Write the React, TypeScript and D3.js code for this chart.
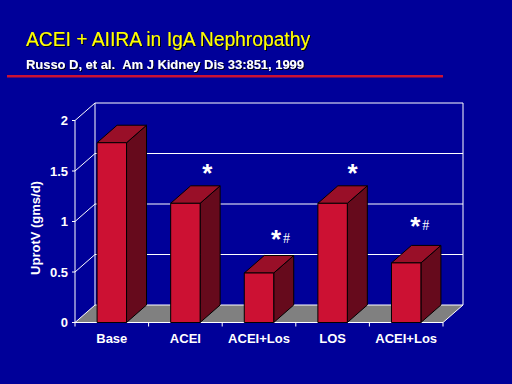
import React from "react";
import * as d3 from "d3";

const categories = ["Base", "ACEI", "ACEI+Los", "LOS", "ACEI+Los "];
const categoryLabels = ["Base", "ACEI", "ACEI+Los", "LOS", "ACEI+Los"];
const values = [1.78, 1.18, 0.49, 1.18, 0.59];
const starMarks = ["", "*", "*", "*", "*"];
const hashMarks = ["", "", "#", "", "#"];
const markLevels = [0, 1.51, 0.86, 1.51, 0.99];
const markOffsets = [0, 22, 17, 20, 9];
const yTicks = [0, 0.5, 1, 1.5, 2];
const yTickLabels = ["0", "0.5", "1", "1.5", "2"];

const W = 512;
const H = 384;
const DX = 20;
const DY = -17.5;

export default function App() {
  const x = d3.scaleBand<string>().domain(categories).range([75, 443]).paddingInner(0).paddingOuter(0);
  const y = d3.scaleLinear().domain([0, 2]).range([322.5, 120.5]);
  const bw = x.bandwidth() * 0.4;
  const x0 = 75, x1 = 443, y0 = y(0), yTop = y(2);
  const font = "'Liberation Sans', Arial, sans-serif";

  const floor = d3.line()([
    [x0, y0], [x1, y0], [x1 + DX, y0 + DY], [x0 + DX, y0 + DY],
  ]) + "Z";

  return (
    <svg width={W} height={H} style={{ position: "absolute", left: 0, top: 0, display: "block" }}>
      <defs>
        <filter id="sh" x="-5%" y="-20%" width="110%" height="150%">
          <feDropShadow dx="1" dy="1" stdDeviation="0" floodColor="#000000" floodOpacity="0.9" />
        </filter>
      </defs>
      <rect x={0} y={0} width={W} height={H} fill="#000099" />
      <text x={26} y={46} fill="#FFFF00" fontFamily={font} fontSize={19.5} textLength={284} lengthAdjust="spacingAndGlyphs" filter="url(#sh)">
        ACEI + AIIRA in IgA Nephropathy
      </text>
      <text x={26} y={69} fill="#FFFFFF" fontFamily={font} fontSize={13.5} fontWeight="bold" textLength={278} lengthAdjust="spacingAndGlyphs" filter="url(#sh)">
        Russo D, et al.{"\u00A0\u00A0"}Am J Kidney Dis 33:851, 1999
      </text>
      <rect x={7} y={75} width={436} height={2.5} fill="#CC1133" />

      {/* floor */}
      <path d={floor} fill="#808080" stroke="none" />
      {/* back wall lines */}
      {yTicks.map((t) => (
        <line key={"g" + t} x1={x0 + DX} x2={x1 + DX} y1={y(t) + DY} y2={y(t) + DY} stroke="#FFFFFF" strokeWidth={1} />
      ))}
      <line x1={x0 + DX} x2={x0 + DX} y1={yTop + DY} y2={y0 + DY} stroke="#FFFFFF" strokeWidth={1} />
      <line x1={x1 + DX} x2={x1 + DX} y1={yTop + DY} y2={y0 + DY} stroke="#FFFFFF" strokeWidth={1} />
      {/* side wall diagonals */}
      {yTicks.map((t) => (
        <line key={"d" + t} x1={x0} x2={x0 + DX} y1={y(t)} y2={y(t) + DY} stroke="#FFFFFF" strokeWidth={1} />
      ))}
      <line x1={x1} x2={x1 + DX} y1={y0} y2={y0 + DY} stroke="#FFFFFF" strokeWidth={1} />
      {/* front axes */}
      <line x1={x0} x2={x0} y1={yTop} y2={y0} stroke="#FFFFFF" strokeWidth={1} />
      <line x1={x0} x2={x1} y1={y0} y2={y0} stroke="#FFFFFF" strokeWidth={1} />
      {yTicks.map((t, i) => (
        <g key={"t" + t}>
          <line x1={x0 - 3} x2={x0} y1={y(t)} y2={y(t)} stroke="#FFFFFF" strokeWidth={1} />
          <text x={68} y={y(t) + 4.5} textAnchor="end" fill="#FFFFFF" fontFamily={font} fontWeight="bold" fontSize={13}>
            {yTickLabels[i]}
          </text>
        </g>
      ))}
      {[x0, ...categories.map((c) => (x(c) as number) + x.bandwidth())].map((v, i) => (
        <line key={"xt" + i} x1={v} x2={v} y1={y0} y2={y0 + 4} stroke="#FFFFFF" strokeWidth={1} />
      ))}

      {/* bars */}
      {categories.map((c, i) => {
        const cx = (x(c) as number) + x.bandwidth() / 2;
        const l = cx - bw / 2, r = cx + bw / 2;
        const top = y(values[i]);
        const front = `M${l},${top}H${r}V${y0}H${l}Z`;
        const topFace = `M${l},${top}L${l + DX},${top + DY}H${r + DX}L${r},${top}Z`;
        const side = `M${r},${top}L${r + DX},${top + DY}V${y0 + DY}L${r},${y0}Z`;
        return (
          <g key={c} stroke="#000000" strokeWidth={1} strokeLinejoin="round">
            <path d={side} fill="#660A1C" />
            <path d={topFace} fill="#990F28" />
            <path d={front} fill="#CC1133" />
          </g>
        );
      })}

      {/* significance marks */}
      {categories.map((c, i) => {
        if (!starMarks[i]) return null;
        const cx = (x(c) as number) + x.bandwidth() / 2 + markOffsets[i];
        const my = y(markLevels[i]);
        return (
          <g key={"m" + c}>
            <text x={cx} y={my + 12} textAnchor="middle" fill="#FFFFFF" fontFamily={font} fontWeight="bold" fontSize={26}>
              {starMarks[i]}
            </text>
            {hashMarks[i] && (
              <text x={cx + 7} y={my + 7} fill="#FFFFFF" fontFamily="'Liberation Serif', serif" fontSize={14}>
                {hashMarks[i]}
              </text>
            )}
          </g>
        );
      })}

      {/* category labels */}
      {categories.map((c, i) => (
        <text key={"cl" + c} x={(x(c) as number) + x.bandwidth() / 2} y={343} textAnchor="middle" fill="#FFFFFF" fontFamily={font} fontWeight="bold" fontSize={13}>
          {categoryLabels[i]}
        </text>
      ))}

      <text transform="translate(40,228) rotate(-90)" textAnchor="middle" fill="#FFFFFF" fontFamily={font} fontWeight="bold" fontSize={13}>
        UprotV (gms/d)
      </text>
    </svg>
  );
}
